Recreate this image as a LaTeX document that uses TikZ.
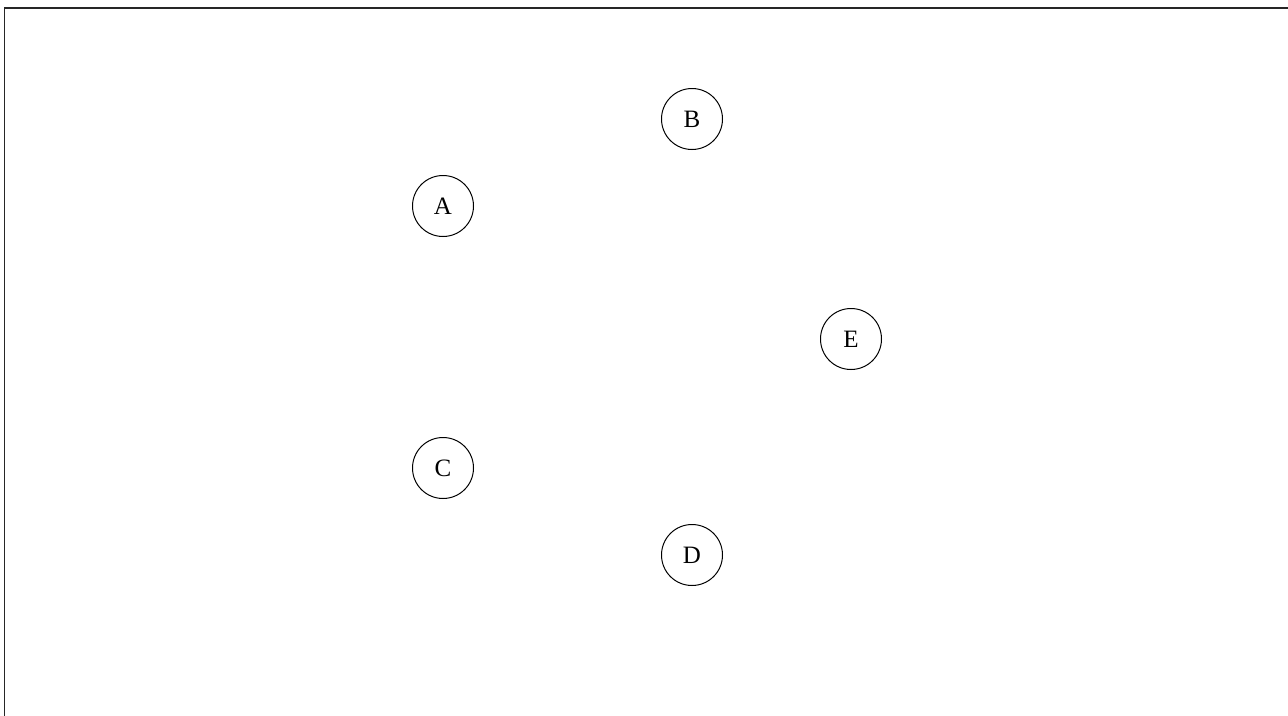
\documentclass[tikz,border=0pt]{standalone}
\usepackage{fontspec}
\setmainfont{Liberation Serif}
\begin{document}
\begin{tikzpicture}[
      x=1pt, y=-1pt,
      every node/.style={font=\fontsize{25}{30}\selectfont},
      vertex/.style={draw, circle, line width=1pt, minimum size=61pt, inner sep=0pt},
      frameline/.style={line width=1.5pt, draw=black!85}
    ]
    \useasboundingbox (0,0) rectangle (1288,715);
    \coordinate (corner) at (4.5,8);
    \draw[frameline] (1290,8) -- (corner) -- (4.5,717);

    \node[vertex] (a) at (443,206) {A};
    \node[vertex] (b) at (692,119) {B};
    \node[vertex] (e) at (851,339) {E};
    \node[vertex] (c) at (443,468) {C};
    \node[vertex] (d) at (692,555) {D};
  \end{tikzpicture}
\end{document}
